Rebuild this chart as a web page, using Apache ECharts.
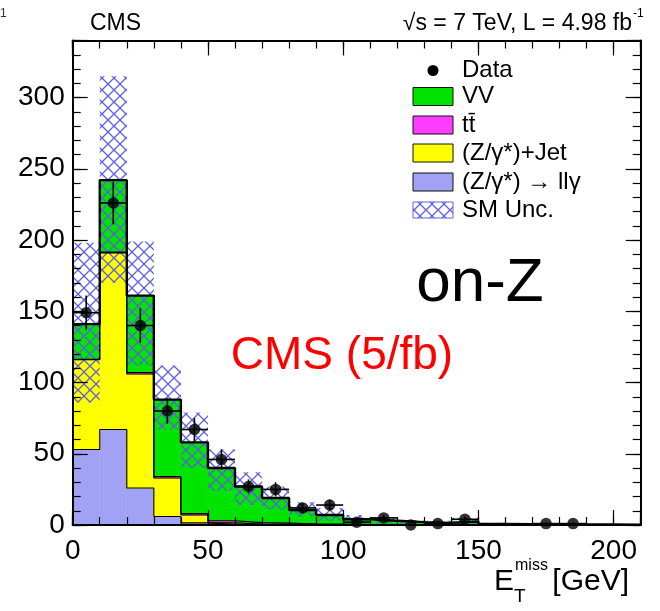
<!DOCTYPE html>
<html>
<head>
<meta charset="utf-8">
<script src="https://cdn.jsdelivr.net/npm/echarts@6/dist/echarts.min.js"></script>
<style>
html,body{margin:0;padding:0;background:#fff;}
#chart{width:660px;height:611px;}
</style>
</head>
<body>
<div id="chart"></div>
<script>
// ---- data (E_T^miss bins, GeV) ----
const binLo = [0,10,20,30,40,50,60,70,80,90,100,110,120,130,140,150,160,170,180,190,200];
const binHi = [10,20,30,40,50,60,70,80,90,100,110,120,130,140,150,160,170,180,190,200,210];
// stacked backgrounds, bottom to top
const llg   = [53, 67, 26, 6, 1.5, 0.5, 0.3, 0.2, 0.1, 0.1, 0, 0, 0, 0, 0, 0, 0, 0, 0, 0, 0];
const zjet  = [63, 124, 80, 27, 5.5, 1.0, 0.4, 0.3, 0.2, 0.1, 0.1, 0, 0, 0, 0, 0, 0, 0, 0, 0, 0];
const ttbar = [0.2, 0.5, 1.0, 1.0, 1.0, 1.5, 1.0, 0.8, 0.6, 0.5, 0.3, 0.3, 0.2, 0.2, 0.2, 0.1, 0.1, 0.1, 0, 0, 0];
const vv    = [24.8, 50.5, 54, 54, 50, 37, 25.3, 17.7, 9.6, 6.3, 3.6, 2.7, 1.8, 1.3, 2.3, 0.7, 0.5, 0.4, 0.4, 0.3, 0.2];
// SM uncertainty band
const uncLo = [86, 170, 112, 67, 40, 24, 14, 11, 6, 3, 1.2, 1, 0.5, 0.5, 1, 0.2, 0.1, 0.1, 0.1, 0.1, 0];
const uncHi = [198, 315, 199, 112, 79, 53, 37, 27, 16, 12, 7, 5, 3.5, 3, 5, 1.5, 1.2, 1, 0.8, 0.6, 0.4];
// observed data
const dataVal = [149, 226, 140, 80, 67, 46, 27, 25, 12, 14, 2, 5, 0, 1, 4, null, null, 1, 1, null, null];
const dataErr = [12, 15, 12, 9, 8, 7, 5, 5, 3.5, 3.7, 1.4, 2.2, 0, 1, 2, 0, 0, 1, 1, 0, 0];
// tick labels
const xTicks = [0, 50, 100, 150, 200];
const yTicks = [0, 50, 100, 150, 200, 250, 300];

const FONT = '"Liberation Sans", Arial, Helvetica, sans-serif';

function makeHatch() {
  const s = 12;
  const c = document.createElement('canvas');
  c.width = s; c.height = s;
  const g = c.getContext('2d');
  g.strokeStyle = '#5f5fe2';
  g.lineWidth = 1.3;
  g.beginPath();
  g.moveTo(-1, -1); g.lineTo(s + 1, s + 1);
  g.moveTo(s + 1, -1); g.lineTo(-1, s + 1);
  g.stroke();
  return c;
}
const hatch = { image: makeHatch(), repeat: 'repeat' };

const layers = [
  { name: '(Z/γ*) → llγ', vals: llg,   color: '#a2a2f4' },
  { name: '(Z/γ*)+Jet',   vals: zjet,  color: '#ffff00' },
  { name: 'tt̄',           vals: ttbar, color: '#ff3cff' },
  { name: 'VV',           vals: vv,    color: '#00e400' }
];

const series = [];
let base = binLo.map(() => 0);
const cumLevels = [];
layers.forEach((ly) => {
  const data = binLo.map((lo, i) => [lo, binHi[i], base[i], base[i] + ly.vals[i]]);
  const top = base.map((b, i) => b + ly.vals[i]);
  cumLevels.push(top);
  base = top;
  const col = ly.color;
  series.push({
    type: 'custom', name: ly.name, z: 2, silent: true,
    data: data,
    encode: { x: [0, 1], y: [2, 3] },
    renderItem: function (params, api) {
      const a = api.coord([api.value(0), api.value(3)]);
      const b = api.coord([api.value(1), api.value(2)]);
      return { type: 'rect',
        shape: { x: a[0], y: a[1], width: b[0] - a[0], height: b[1] - a[1] },
        style: { fill: col, stroke: col, lineWidth: 0.6 } };
    }
  });
});

// SM uncertainty hatch
series.push({
  type: 'custom', name: 'SM Unc.', z: 3, silent: true,
  data: binLo.map((lo, i) => [lo, binHi[i], uncLo[i], uncHi[i]]),
  encode: { x: [0, 1], y: [2, 3] },
  renderItem: function (params, api) {
    const a = api.coord([api.value(0), api.value(3)]);
    const b = api.coord([api.value(1), api.value(2)]);
    return { type: 'rect',
      shape: { x: a[0], y: a[1], width: b[0] - a[0], height: b[1] - a[1] },
      style: { fill: hatch } };
  }
});

// step outlines of each cumulative level
cumLevels.forEach((lev, k) => {
  const pts = binLo.map((x, i) => [x, lev[i]]);
  pts.push([binHi[binHi.length - 1], lev[lev.length - 1]]);
  const isTotal = k === cumLevels.length - 1;
  series.push({
    type: 'line', step: 'end', data: pts, symbol: 'none', silent: true,
    z: isTotal ? 5 : 4,
    lineStyle: { color: '#000', width: isTotal ? 2.4 : 1.1 }
  });
});

// data error bars and markers
const dPts = [];
binLo.forEach((lo, i) => {
  if (dataVal[i] !== null) dPts.push([(lo + binHi[i]) / 2, dataVal[i], dataErr[i], lo, binHi[i]]);
});
series.push({
  type: 'custom', z: 6, silent: true,
  data: dPts,
  encode: { x: 0, y: 1 },
  renderItem: function (params, api) {
    const x = api.value(0), v = api.value(1), e = api.value(2);
    const t = api.coord([x, v + e]);
    const bt = api.coord([x, v - e]);
    const l = api.coord([api.value(3), v]);
    const r = api.coord([api.value(4), v]);
    return { type: 'group', children: [
      { type: 'line', shape: { x1: t[0], y1: t[1], x2: bt[0], y2: bt[1] }, style: { stroke: '#000', lineWidth: 1.6 } },
      { type: 'line', shape: { x1: l[0], y1: l[1], x2: r[0], y2: r[1] }, style: { stroke: '#000', lineWidth: 1.6 } }
    ] };
  }
});
series.push({
  type: 'scatter', z: 7, silent: true,
  data: dPts.map(p => [p[0], p[1]]),
  symbol: 'circle', symbolSize: 11.5,
  itemStyle: { color: '#000' }
});

const XMAX = 210, YMAX = 340;
function xAx(pos, interval, len, labels, line) {
  return {
    type: 'value', min: 0, max: XMAX, interval: interval, position: pos, z: 10,
    axisLine: { show: line, onZero: false, lineStyle: { color: '#000', width: 2 } },
    axisTick: { show: true, inside: true, length: len, lineStyle: { color: '#000', width: 1.2 } },
    axisLabel: { show: labels, fontSize: 28, color: '#000', fontFamily: FONT, margin: 12,
      formatter: v => (xTicks.includes(v) ? String(v) : '') },
    splitLine: { show: false }
  };
}
function yAx(pos, interval, len, labels, line) {
  return {
    type: 'value', min: 0, max: YMAX, interval: interval, position: pos, z: 10,
    axisLine: { show: line, onZero: false, lineStyle: { color: '#000', width: 2 } },
    axisTick: { show: true, inside: true, length: len, lineStyle: { color: '#000', width: 1.2 } },
    axisLabel: { show: labels, fontSize: 28, color: '#000', fontFamily: FONT, margin: 8,
      formatter: v => (yTicks.includes(v) ? String(v) : '') },
    splitLine: { show: false }
  };
}

const LX = 413, TX = 462;
const rowsY = [70.5, 96.5, 125, 153, 182, 210];
const graphic = [
  { type: 'text', x: 0, y: 14, style: { text: '1', font: '12px ' + FONT, fill: '#333', textVerticalAlign: 'middle' } },
  { type: 'text', x: 90, y: 24, style: { text: 'CMS', font: '23px ' + FONT, fill: '#000', textVerticalAlign: 'middle' } },
  { type: 'text', x: 632, y: 24, style: { text: '√s = 7 TeV, L = 4.98 fb', font: '23px ' + FONT, fill: '#000', textAlign: 'right', textVerticalAlign: 'middle' } },
  { type: 'text', x: 633, y: 14, style: { text: '-1', font: '12px ' + FONT, fill: '#000', textVerticalAlign: 'middle' } },
  // legend
  { type: 'circle', shape: { cx: 433, cy: rowsY[0], r: 5.5 }, style: { fill: '#000' } },
  { type: 'rect', shape: { x: LX, y: rowsY[1] - 9, width: 40, height: 18 }, style: { fill: '#00e400', stroke: '#111', lineWidth: 1 } },
  { type: 'rect', shape: { x: LX, y: rowsY[2] - 9, width: 40, height: 18 }, style: { fill: '#ff3cff', stroke: '#111', lineWidth: 1 } },
  { type: 'rect', shape: { x: LX, y: rowsY[3] - 9, width: 40, height: 18 }, style: { fill: '#ffff00', stroke: '#111', lineWidth: 1 } },
  { type: 'rect', shape: { x: LX, y: rowsY[4] - 9, width: 40, height: 18 }, style: { fill: '#a2a2f4', stroke: '#111', lineWidth: 1 } },
  { type: 'rect', shape: { x: LX, y: rowsY[5] - 8, width: 40, height: 16 }, style: { fill: hatch, stroke: '#6464e4', lineWidth: 1 } },
  { type: 'text', x: TX, y: rowsY[0], style: { text: 'Data', font: '24px ' + FONT, fill: '#000', textVerticalAlign: 'middle' } },
  { type: 'text', x: TX, y: rowsY[1], style: { text: 'VV', font: '24px ' + FONT, fill: '#000', textVerticalAlign: 'middle' } },
  { type: 'text', x: TX, y: rowsY[2], style: { text: 'tt\u0304', font: '24px ' + FONT, fill: '#000', textVerticalAlign: 'middle' } },
  { type: 'text', x: TX, y: rowsY[3], style: { text: '(Z/γ*)+Jet', font: '24px ' + FONT, fill: '#000', textVerticalAlign: 'middle' } },
  { type: 'text', x: TX, y: rowsY[4], style: { text: '(Z/γ*) → llγ', font: '24px ' + FONT, fill: '#000', textVerticalAlign: 'middle' } },
  { type: 'text', x: TX, y: rowsY[5], style: { text: 'SM Unc.', font: '24px ' + FONT, fill: '#000', textVerticalAlign: 'middle' } },
  // annotations
  { type: 'text', x: 480, y: 284, style: { text: 'on-Z', font: '62px ' + FONT, fill: '#000', textAlign: 'center', textVerticalAlign: 'middle' } },
  { type: 'text', x: 342, y: 356, style: { text: 'CMS (5/fb)', font: '46px ' + FONT, fill: '#ff0000', textAlign: 'center', textVerticalAlign: 'middle' } },
  // x-axis title
  { type: 'text', x: 494, y: 582, style: { text: 'E', font: '30px ' + FONT, fill: '#000', textVerticalAlign: 'middle' } },
  { type: 'text', x: 515, y: 566, style: { text: 'miss', font: '16px ' + FONT, fill: '#000', textVerticalAlign: 'middle' } },
  { type: 'text', x: 514, y: 597, style: { text: 'T', font: '19px ' + FONT, fill: '#000', textVerticalAlign: 'middle' } },
  { type: 'text', x: 629, y: 582, style: { text: '[GeV]', font: '30px ' + FONT, fill: '#000', textAlign: 'right', textVerticalAlign: 'middle' } }
];

const chart = echarts.init(document.getElementById('chart'), null, { renderer: 'canvas' });
chart.setOption({
  animation: false,
  backgroundColor: '#fff',
  grid: { left: 72.7, right: 19.3, top: 40.5, bottom: 86, containLabel: false },
  xAxis: [
    xAx('bottom', 50, 15, true, true),
    xAx('bottom', 10, 8, false, false),
    xAx('top', 50, 15, false, true),
    xAx('top', 10, 8, false, false)
  ],
  yAxis: [
    yAx('left', 50, 15, true, true),
    yAx('left', 10, 8, false, false),
    yAx('right', 50, 15, false, true),
    yAx('right', 10, 8, false, false)
  ],
  series: series,
  graphic: graphic
});
</script>
</body>
</html>
